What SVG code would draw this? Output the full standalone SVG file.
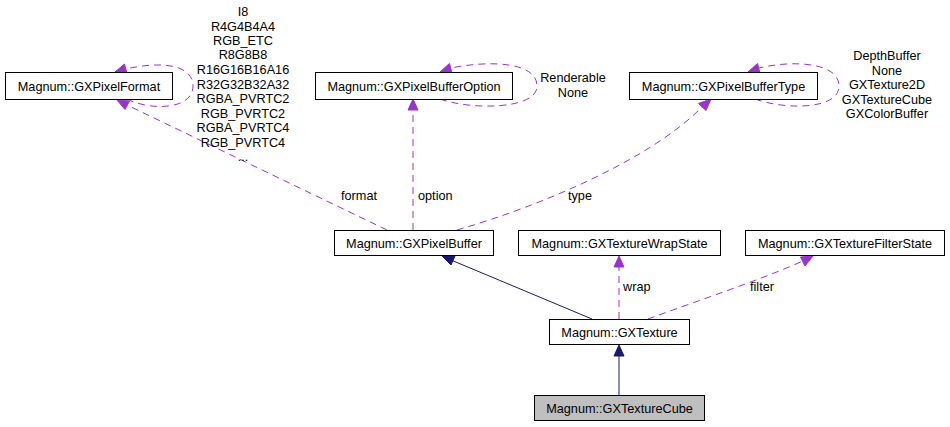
<svg xmlns="http://www.w3.org/2000/svg" width="950" height="427" viewBox="0 0 950 427">
<defs>
<style>
.node rect{fill:#ffffff;stroke:#000000;stroke-width:1}
.node text{font-family:"Liberation Sans",Arial,sans-serif;font-size:12.7px;text-anchor:middle;fill:#000}
.lbl{font-family:"Liberation Sans",Arial,sans-serif;font-size:12.7px;fill:#000}
.dash{fill:none;stroke:#9a32cd;stroke-width:1;stroke-dasharray:7,5}
.solid{fill:none;stroke:#191970;stroke-width:1}
.ahp{fill:#9a32cd;stroke:#9a32cd}
.ahn{fill:#191970;stroke:#191970}
</style>
</defs>
<rect x="0" y="0" width="950" height="427" fill="#ffffff"/>
<g id="connectors">
  <!-- format -->
  <path class="dash" d="M387,230 L127,105"/>
  <polygon class="ahp" points="117,100 129.5,101 125,109.5"/>
  <text class="lbl" x="341" y="200">format</text>
  <!-- option -->
  <path class="dash" d="M413,230 L413,110"/>
  <polygon class="ahp" points="413,99 418,110 408,110"/>
  <text class="lbl" x="418" y="200">option</text>
  <!-- type -->
  <path class="dash" d="M457,230 C540,206 650,160 702,107"/>
  <polygon class="ahp" points="711,99 706,110.5 698.5,103.5"/>
  <text class="lbl" x="568" y="200">type</text>
  <!-- inheritance GXTexture -> GXPixelBuffer -->
  <path class="solid" d="M592,319 L451,260"/>
  <polygon class="ahn" points="442,256 455,256 451,265"/>
  <!-- wrap -->
  <path class="dash" d="M619,319 L619,267"/>
  <polygon class="ahp" points="619,256 624,267 614,267"/>
  <text class="lbl" x="623" y="291">wrap</text>
  <!-- filter -->
  <path class="dash" d="M648,319 C700,300 760,280 803,261"/>
  <polygon class="ahp" points="813,256 805,266 800.5,257"/>
  <text class="lbl" x="750" y="291">filter</text>
  <!-- GXTextureCube -> GXTexture -->
  <path class="solid" d="M619,395 L619,356"/>
  <polygon class="ahn" points="619,345 624,356 614,356"/>
  <!-- self loops -->
  <path class="dash" d="M127,99 C150,111 193,110 193,86 C193,64 160,61 126,69"/>
  <polygon class="ahp" points="115,72 124.5,64 127,73.5"/>
  <path class="dash" d="M440,99 C470,110 537,110 537,86 C537,62 490,60 451,68"/>
  <polygon class="ahp" points="440,72 449.5,63.5 452,73"/>
  <path class="dash" d="M755,99 C785,110 839,110 839,86 C839,62 792,60 759,68"/>
  <polygon class="ahp" points="748,72 757.5,63.5 760,73"/>
  <!-- loop labels -->
  <g class="lbl" text-anchor="middle">
    <text x="243" y="16">I8</text>
    <text x="243" y="30.5">R4G4B4A4</text>
    <text x="243" y="45">RGB_ETC</text>
    <text x="243" y="59">R8G8B8</text>
    <text x="243" y="74">R16G16B16A16</text>
    <text x="243" y="88.5">R32G32B32A32</text>
    <text x="243" y="103">RGBA_PVRTC2</text>
    <text x="243" y="117.5">RGB_PVRTC2</text>
    <text x="243" y="132">RGBA_PVRTC4</text>
    <text x="243" y="146.5">RGB_PVRTC4</text>
    <text x="243" y="161">...</text>
    <text x="573" y="82">Renderable</text>
    <text x="573" y="97">None</text>
    <text x="887" y="60">DepthBuffer</text>
    <text x="887" y="74.5">None</text>
    <text x="887" y="89">GXTexture2D</text>
    <text x="887" y="103.5">GXTextureCube</text>
    <text x="887" y="118">GXColorBuffer</text>
  </g>
</g>
<g id="GXPixelFormat" class="node">
  <rect x="5.5" y="72.5" width="167" height="27"/>
  <text x="89" y="90.5">Magnum::GXPixelFormat</text>
</g>
<g id="GXPixelBufferOption" class="node">
  <rect x="315.5" y="72.5" width="197" height="27"/>
  <text x="414" y="90.5">Magnum::GXPixelBufferOption</text>
</g>
<g id="GXPixelBufferType" class="node">
  <rect x="629.5" y="72.5" width="188" height="27"/>
  <text x="723.5" y="90.5">Magnum::GXPixelBufferType</text>
</g>
<g id="GXPixelBuffer" class="node">
  <rect x="334.5" y="230.5" width="159" height="25"/>
  <text x="414" y="247.5">Magnum::GXPixelBuffer</text>
</g>
<g id="GXTextureWrapState" class="node">
  <rect x="518.5" y="230.5" width="202" height="25"/>
  <text x="619.5" y="247.5">Magnum::GXTextureWrapState</text>
</g>
<g id="GXTextureFilterState" class="node">
  <rect x="745.5" y="230.5" width="199" height="25"/>
  <text x="845" y="247.5">Magnum::GXTextureFilterState</text>
</g>
<g id="GXTexture" class="node">
  <rect x="549.5" y="319.5" width="140" height="25"/>
  <text x="619.5" y="336.5">Magnum::GXTexture</text>
</g>
<g id="GXTextureCube" class="node">
  <rect x="534.5" y="395.5" width="170" height="25" style="fill:#bfbfbf"/>
  <text x="619.5" y="412.5">Magnum::GXTextureCube</text>
</g>
</svg>
